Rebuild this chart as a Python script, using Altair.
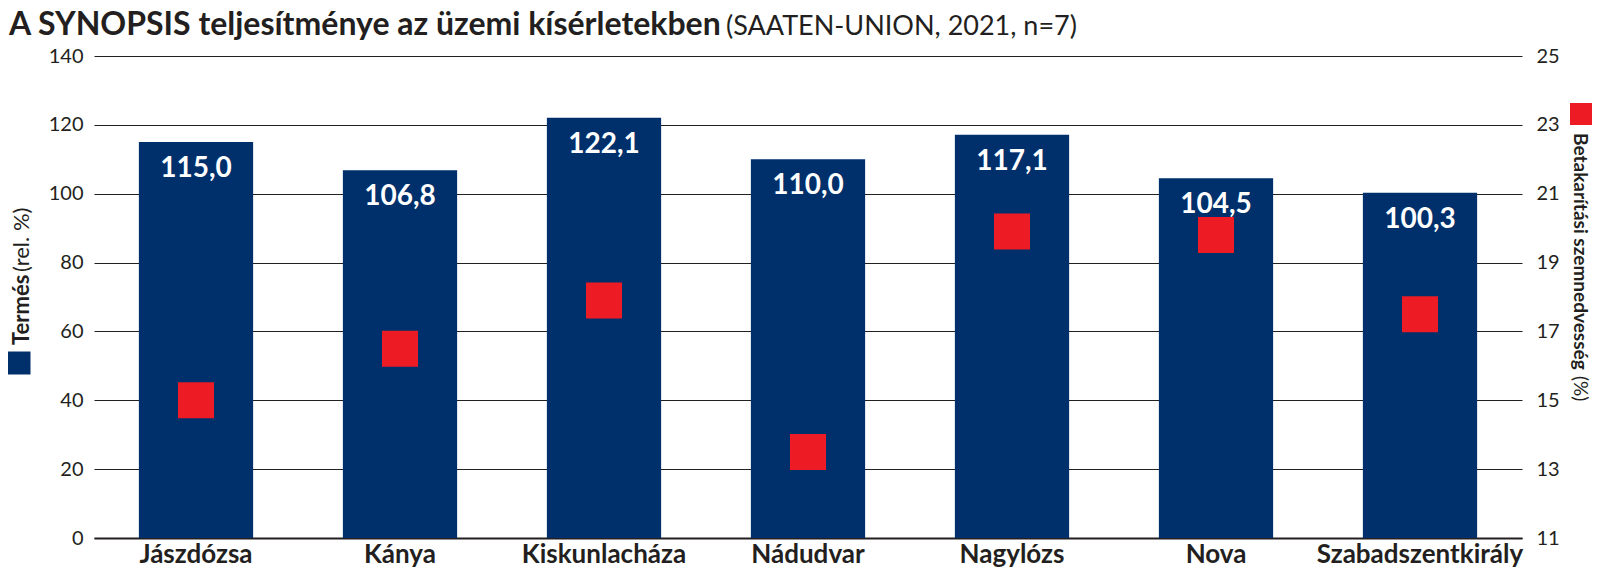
import altair as alt
import pandas as pd

sites = ["Jászdózsa", "Kánya", "Kiskunlacháza", "Nádudvar", "Nagylózs", "Nova", "Szabadszentkirály"]
yield_rel = [115.0, 106.8, 122.1, 110.0, 117.1, 104.5, 100.3]
moisture = [15.0, 16.5, 17.9, 13.5, 19.9, 19.8, 17.5]
left_ticks = [0, 20, 40, 60, 80, 100, 120, 140]
right_ticks = [11, 13, 15, 17, 19, 21, 23, 25]

title_bold = "A SYNOPSIS teljesítménye az üzemi kísérletekben"
title_reg = "(SAATEN-UNION, 2021, n=7)"
ytitle_bold = "Termés"
ytitle_reg = "(rel. %)"
y2title_bold = "Betakarítási szemnedvesség"
y2title_reg = "(%)"

NAVY = "#00306b"
RED = "#ed1c24"
INK = "#231f20"
FONT = "Lato"

df = pd.DataFrame({
    "site": sites,
    "yield": yield_rel,
    "moist": moisture,
    "label": [f"{v:.1f}".replace(".", ",") for v in yield_rel],
})

xenc = alt.X(
    "site:N", sort=sites,
    scale=alt.Scale(paddingInner=0.44, paddingOuter=0.22),
    axis=alt.Axis(title=None, labelAngle=0, labelFont=FONT, labelFontWeight="bold",
                  labelFontSize=26, labelColor=INK, labelLimit=400, domain=True,
                  domainColor=INK, domainWidth=2, ticks=False, labelPadding=3, grid=False),
)

base = alt.Chart(df).encode(x=xenc)

yscale = alt.Scale(domain=[0, 140], nice=False)
yl = alt.Y("yield:Q", scale=yscale,
           axis=alt.Axis(values=left_ticks, grid=True, gridColor=INK, gridWidth=1,
                         domain=False, ticks=False,
                         labelFont=FONT, labelFontSize=20,
                         labelColor=INK, labelPadding=11, title=None))

bars = base.mark_bar(color=NAVY).encode(y=yl)
vals = base.mark_text(color="white", font=FONT, fontWeight="bold", fontSize=28,
                      baseline="alphabetic", dy=35).encode(y=yl, text="label:N")
left = alt.layer(bars, vals)

pts = base.mark_point(shape="square", filled=True, size=1296, color=RED, opacity=1).encode(
    y=alt.Y("moist:Q", scale=alt.Scale(domain=[11, 25], nice=False, zero=False),
            axis=alt.Axis(orient="right", values=right_ticks, grid=False, domain=False,
                          ticks=False, labelFont=FONT,
                          labelFontSize=20, labelColor=INK, labelPadding=14, title=None)))

def txt(t, x, y, weight="normal", size=24, angle=0, align="left", baseline="alphabetic"):
    return alt.Chart(pd.DataFrame({"t": [t]})).mark_text(
        font=FONT, fontSize=size, fontWeight=weight, color=INK, angle=angle,
        align=align, baseline=baseline).encode(
        x=alt.value(x), y=alt.value(y), text="t:N")

def sq(x, y, s, color):
    return alt.Chart(pd.DataFrame({"t": [0]})).mark_square(
        size=s * s, color=color, opacity=1, filled=True).encode(
        x=alt.value(x), y=alt.value(y))

# origin of plot area on page: (94, 56)
deco = [
    txt(title_bold, -85, -21, weight="bold", size=32),
    txt(title_reg, 632, -21, size=27),
    txt(ytitle_bold, -72, 289, weight="bold", size=22, angle=270, baseline="middle"),
    txt(ytitle_reg, -72, 216, size=22, angle=270, baseline="middle"),
    sq(-75, 307, 23, NAVY),
    txt(y2title_bold, 1486, 77, weight="bold", size=19, angle=90, baseline="middle"),
    txt(y2title_reg, 1486, 320, size=19, angle=90, baseline="middle"),
    sq(1487, 58, 22, RED),
]

chart = alt.layer(left, pts, *deco).resolve_scale(y="independent").properties(
    width=1428, height=482,
    background="white",
    autosize=alt.AutoSizeParams(type="none"),
    padding={"left": 86, "top": 48, "right": 70, "bottom": 31},
).configure_view(stroke="transparent", strokeWidth=0)

chart.save("out.html", embed_options={"renderer": "svg", "actions": False})
